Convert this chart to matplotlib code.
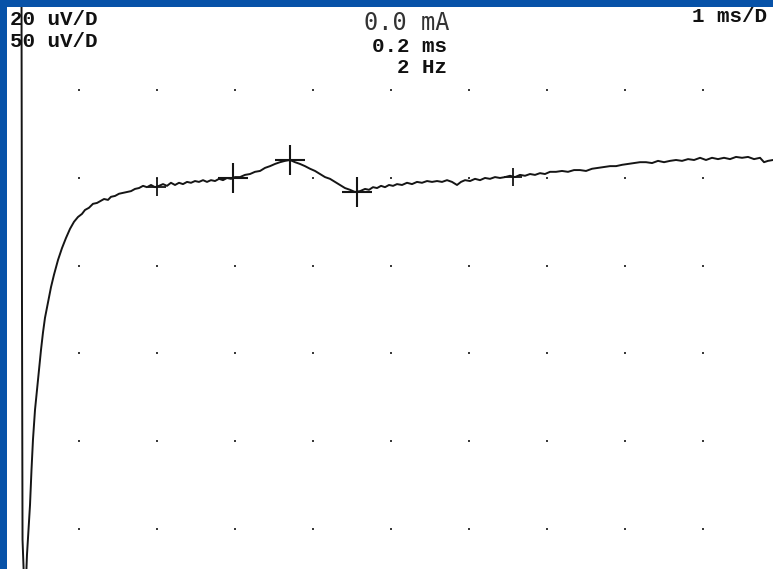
import numpy as np
import matplotlib
matplotlib.use('Agg')
import matplotlib.pyplot as plt

# time in ms (1 ms/D), amplitude in uV (20 uV/D)
t_ms = [0.263, 0.269, 0.276, 0.295, 0.321, 0.333, 0.353, 0.372, 0.391, 0.410,
        0.436, 0.462, 0.487, 0.513, 0.538, 0.564, 0.603, 0.641, 0.679, 0.731,
        0.782, 0.833, 0.885, 0.936, 0.987, 1.038, 1.077, 1.128, 1.179, 1.231,
        1.282, 1.321, 1.372, 1.410, 1.462, 1.513, 1.564, 1.615, 1.667, 1.718,
        1.769, 1.821, 1.872, 1.923, 1.974, 2.026, 2.077, 2.128, 2.179, 2.231,
        2.282, 2.333, 2.385, 2.436, 2.487, 2.538, 2.590, 2.641, 2.692, 2.744,
        2.795, 2.846, 2.897, 2.949, 3.000, 3.064, 3.128, 3.192, 3.256, 3.321,
        3.385, 3.449, 3.513, 3.577, 3.641, 3.705, 3.769, 3.833, 3.897, 3.962,
        4.026, 4.090, 4.154, 4.218, 4.282, 4.346, 4.410, 4.474, 4.538, 4.603,
        4.667, 4.718, 4.769, 4.821, 4.872, 4.923, 4.974, 5.026, 5.077, 5.141,
        5.205, 5.269, 5.333, 5.397, 5.462, 5.526, 5.590, 5.654, 5.718, 5.782,
        5.846, 5.897, 5.949, 6.013, 6.077, 6.141, 6.205, 6.269, 6.333, 6.397,
        6.462, 6.526, 6.590, 6.654, 6.718, 6.782, 6.846, 6.910, 6.974, 7.038,
        7.115, 7.192, 7.269, 7.346, 7.423, 7.500, 7.577, 7.654, 7.731, 7.808,
        7.885, 7.962, 8.038, 8.115, 8.192, 8.269, 8.346, 8.423, 8.500, 8.577,
        8.654, 8.731, 8.808, 8.885, 8.962, 9.038, 9.115, 9.192, 9.269, 9.346,
        9.423, 9.500, 9.577, 9.654, 9.731, 9.782, 9.833, 9.897]
amp_uv = [41.7, -27.8, -82.5, -91.7, -91.7, -86.0, -80.3, -74.6, -66.6, -59.7,
          -52.9, -48.3, -43.8, -39.2, -35.3, -31.9, -28.3, -24.9, -22.1, -18.7,
          -16.0, -13.7, -11.6, -10.0, -8.9, -8.2, -7.3, -6.8, -5.9, -5.7,
          -5.2, -4.8, -5.0, -4.3, -4.1, -3.6, -3.4, -3.2, -3.0, -2.5,
          -2.3, -1.8, -2.1, -1.6, -2.1, -1.8, -1.4, -1.8, -1.1, -1.6,
          -1.1, -1.4, -0.9, -1.1, -0.7, -0.9, -0.5, -0.9, -0.5, -0.7,
          -0.2, -0.5, 0.0, -0.2, 0.2, 0.2, 0.7, 0.9, 1.4, 1.6,
          2.3, 2.7, 3.2, 3.6, 3.9, 4.1, 3.6, 3.2, 2.7, 2.1,
          1.6, 0.9, 0.2, -0.2, -0.9, -1.6, -2.3, -2.7, -3.2, -3.0,
          -2.5, -2.7, -2.1, -2.3, -1.8, -2.1, -1.6, -1.8, -1.4, -1.6,
          -1.1, -1.4, -0.9, -1.1, -0.7, -0.9, -0.7, -0.9, -0.5, -0.9,
          -1.6, -0.9, -0.5, -0.7, -0.2, -0.5, 0.0, -0.2, 0.2, 0.0,
          0.2, 0.5, 0.2, 0.7, 0.5, 0.9, 0.7, 1.1, 0.9, 1.4,
          1.4, 1.6, 1.4, 1.8, 1.8, 1.6, 2.1, 2.3, 2.5, 2.7,
          2.7, 3.0, 3.2, 3.4, 3.6, 3.6, 3.4, 3.9, 3.6, 3.9,
          4.1, 3.9, 4.3, 4.1, 4.6, 4.1, 4.6, 4.3, 4.6, 4.3,
          4.8, 4.6, 4.8, 4.3, 4.6, 3.6, 3.9, 4.1]

# cursor marks
cur_big_t = [2.974, 3.705, 4.564]
cur_big_a = [0.0, 4.1, -3.2]
cur_small_t = [2.0, 6.564]
cur_small_a = [-2.05, 0.2]

grid_t = [1, 2, 3, 4, 5, 6, 7, 8, 9]
grid_a = [20, 0, -20, -40, -60, -80]

blue = '#0752a8'
fig = plt.figure(figsize=(7.73, 5.69), dpi=100, facecolor=blue)
ax = fig.add_axes([7 / 773, 0, 766 / 773, 562 / 569])
ax.set_facecolor('white')
for s in ax.spines.values():
    s.set_visible(False)
ax.set_xticks([])
ax.set_yticks([])
ax.set_xlim(0.077, 9.897)
ax.set_ylim(-89.2, 39.0)

gx, gy = np.meshgrid(grid_t, grid_a)
ax.scatter(gx.ravel(), gy.ravel(), s=3.5, marker='s', color='#3a3a3a', linewidths=0)

ax.plot(t_ms, amp_uv, color='#151515', lw=1.4)
ax.plot(cur_big_t, cur_big_a, ls='none', marker='+', ms=21, mew=1.5, color='#151515')
ax.plot(cur_small_t, cur_small_a, ls='none', marker='+', ms=13, mew=1.3, color='#151515')

bold = dict(family='Liberation Mono', weight='bold', size=15, color='#111111')
fig.text(10 / 773, 1 - 25 / 569, '20 uV/D', ha='left', va='baseline', **bold)
fig.text(10 / 773, 1 - 47 / 569, '50 uV/D', ha='left', va='baseline', **bold)
fig.text(447 / 773, 1 - 52 / 569, '0.2 ms', ha='right', va='baseline', **bold)
fig.text(447 / 773, 1 - 73 / 569, '2 Hz', ha='right', va='baseline', **bold)
fig.text(767 / 773, 1 - 22 / 569, '1 ms/D', ha='right', va='baseline', **bold)
fig.text(450 / 773, 1 - 30 / 569, '0.0 mA', ha='right', va='baseline',
         family='DejaVu Sans Mono', size=17, color='#333333')

fig.savefig('out.png', dpi=100, facecolor=blue)
